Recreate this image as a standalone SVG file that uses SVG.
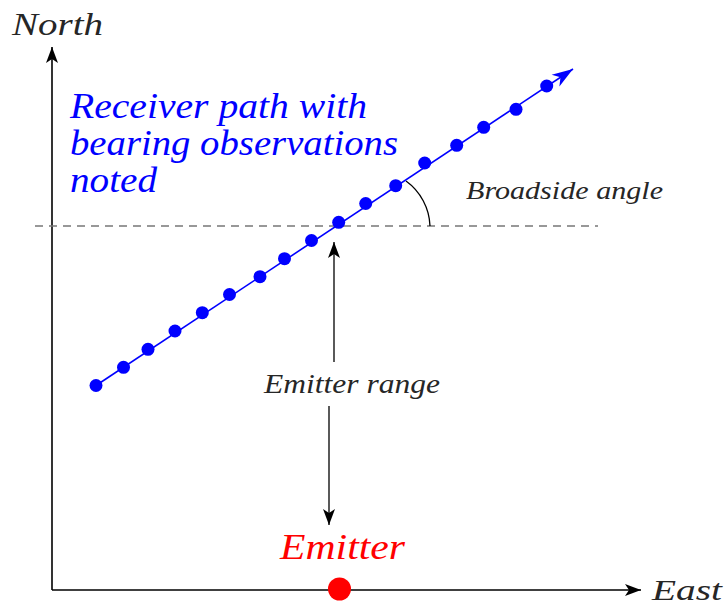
<svg xmlns="http://www.w3.org/2000/svg" width="727" height="606" viewBox="0 0 727 606">
<style>
text{font-family:"Liberation Serif","DejaVu Serif",serif;font-style:italic;}
.lbl{fill:#262626;}
.axis{stroke:#000;stroke-width:1.6;fill:none;}
.thin{stroke:#000;stroke-width:1.3;fill:none;}
.dot{fill:#0000ff;}
</style>
<defs>
<marker id="ah" markerUnits="userSpaceOnUse" viewBox="-17 -7 19 14" refX="0" refY="0" markerWidth="19" markerHeight="14" orient="auto">
<path d="M0,0 L-16,-6 L-12,0 L-16,6 Z" fill="#000"/>
</marker>
<marker id="ahb" markerUnits="userSpaceOnUse" viewBox="-22 -8 24 16" refX="0" refY="0" markerWidth="24" markerHeight="16" orient="auto">
<path d="M0,0 L-21,-7 L-15,0 L-21,7 Z" fill="#0000ff"/>
</marker>
</defs>
<g id="axes">
<line class="axis" x1="52" y1="590" x2="52" y2="47" marker-end="url(#ah)"/>
<line class="axis" x1="52" y1="590" x2="641" y2="590" marker-end="url(#ah)"/>
<text class="lbl" x="12" y="35" font-size="31" textLength="91" lengthAdjust="spacingAndGlyphs">North</text>
<text class="lbl" x="652" y="600" font-size="29" textLength="70" lengthAdjust="spacingAndGlyphs">East</text>
</g>
<g id="connectors">
<line x1="35" y1="226" x2="598" y2="226" stroke="#777" stroke-width="1.3" stroke-dasharray="8,6"/>
<path class="thin" d="M406,181 A58,58 0 0 1 430,226"/>
<line class="thin" x1="334" y1="362" x2="334" y2="242" marker-end="url(#ah)"/>
<line class="thin" x1="329" y1="406" x2="329" y2="525" marker-end="url(#ah)"/>
</g>
<g id="path">
<line x1="96" y1="385.5" x2="573" y2="69" stroke="#0000ff" stroke-width="1.6" marker-end="url(#ahb)"/>
<circle class="dot" cx="96" cy="385.5" r="6.5"/>
<circle class="dot" cx="123.5" cy="367.3" r="6.5"/>
<circle class="dot" cx="148" cy="349.3" r="6.5"/>
<circle class="dot" cx="175" cy="331" r="6.5"/>
<circle class="dot" cx="202.3" cy="312.7" r="6.5"/>
<circle class="dot" cx="229.5" cy="294.5" r="6.5"/>
<circle class="dot" cx="260" cy="276.7" r="6.5"/>
<circle class="dot" cx="284.5" cy="258.7" r="6.5"/>
<circle class="dot" cx="311.5" cy="240.5" r="6.5"/>
<circle class="dot" cx="338.7" cy="222.3" r="6.5"/>
<circle class="dot" cx="365.7" cy="203.5" r="6.5"/>
<circle class="dot" cx="395.7" cy="185.7" r="6.5"/>
<circle class="dot" cx="424.7" cy="163" r="6.5"/>
<circle class="dot" cx="456.7" cy="145.3" r="6.5"/>
<circle class="dot" cx="483.7" cy="127.3" r="6.5"/>
<circle class="dot" cx="516" cy="109.3" r="6.5"/>
<circle class="dot" cx="546.7" cy="86" r="6.5"/>
</g>
<g id="receiver-label">
<text fill="#0000ff" font-size="35"><tspan x="70" y="118" textLength="297" lengthAdjust="spacingAndGlyphs">Receiver path with</tspan><tspan x="70" y="155" textLength="328" lengthAdjust="spacingAndGlyphs">bearing observations</tspan><tspan x="70" y="192" textLength="87" lengthAdjust="spacingAndGlyphs">noted</tspan></text>
</g>
<g id="broadside">
<text class="lbl" x="466" y="199" font-size="26" textLength="197" lengthAdjust="spacingAndGlyphs">Broadside angle</text>
</g>
<g id="range">
<text class="lbl" x="264" y="393" font-size="27" textLength="176" lengthAdjust="spacingAndGlyphs">Emitter range</text>
</g>
<g id="emitter">
<circle cx="339.5" cy="589" r="11.5" fill="#ff0000"/>
<text fill="#ff0000" x="280" y="559" font-size="35" textLength="125" lengthAdjust="spacingAndGlyphs">Emitter</text>
</g>
</svg>
